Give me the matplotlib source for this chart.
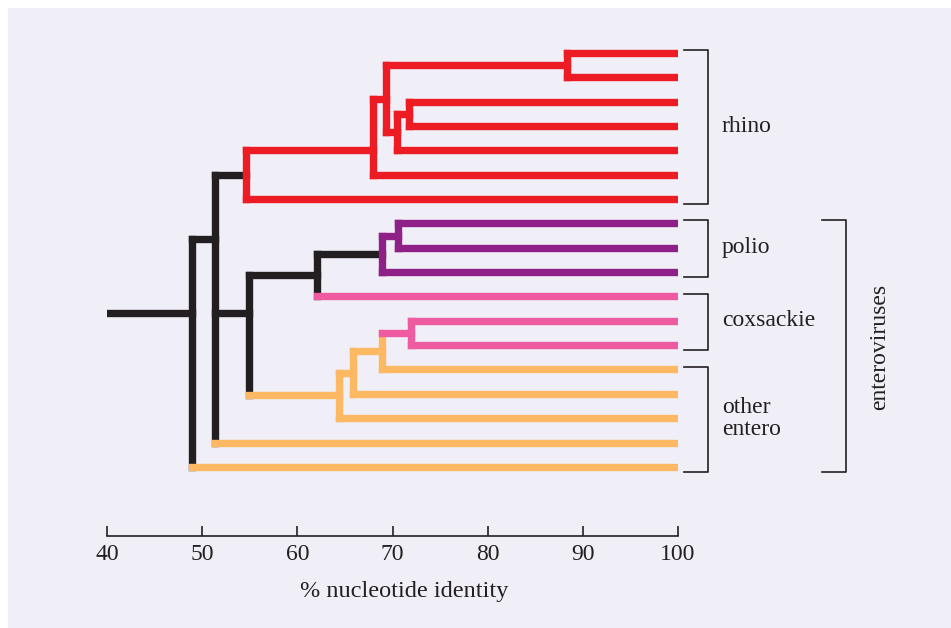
import matplotlib.pyplot as plt
from matplotlib.patches import Rectangle

# leaf groups, top to bottom
groups = ['rhino', 'polio', 'coxsackie', 'other\nentero']
group_sizes = [7, 3, 3, 5]
leaf_colours = ['red'] * 7 + ['purple'] * 3 + ['pink'] * 3 + ['orange'] * 5

# internal nodes: name -> (children, % nucleotide identity)
# ints are leaf rows, strings are other nodes
nodes = {
    'A': ([0, 1], 88.3),
    'B': ([2, 3], 71.7),
    'C': (['B', 4], 70.5),
    'D': (['A', 'C'], 69.3),
    'E': (['D', 5], 67.9),
    'F': (['E', 6], 54.6),
    'G': ([7, 8], 70.6),
    'H': (['G', 9], 68.85),
    'I': (['H', 10], 62.1),
    'J': ([11, 12], 71.95),
    'K': (['J', 13], 68.9),
    'L': (['K', 14], 65.9),
    'M': (['L', 15], 64.4),
    'N': (['I', 'M'], 54.9),
    'O': (['F', 'N', 16], 51.4),
    'P': (['O', 17], 48.9),
}
root = 'P'
root_start = 40

# colour of each node's vertical bar and of the branch leading into it
node_colour = {'A': 'red', 'B': 'red', 'C': 'red', 'D': 'red', 'E': 'red', 'F': 'red',
               'G': 'purple', 'H': 'purple', 'I': 'black',
               'J': 'pink', 'K': 'orange', 'L': 'orange', 'M': 'orange',
               'N': 'black', 'O': 'black', 'P': 'black'}
stem_colour = dict(node_colour, F='black', H='black')

# rows where the drawn branch meets a node, where it is not the midpoint
attach_row = {'E': 4.0, 'N': 10.66, 'O': 7.62, 'P': 10.66}

palette = {'red': '#ED1C24', 'purple': '#8E2088', 'pink': '#EE5BA0',
           'orange': '#FDB863', 'black': '#231F20'}
ink = '#231F20'
serif = ['Liberation Serif', 'DejaVu Serif']

fig = plt.figure(figsize=(9.51, 6.28), dpi=100)
fig.patch.set_facecolor('white')
fig.patches.append(Rectangle((8 / 951, 0), 1, 1 - 8 / 628, transform=fig.transFigure,
                             facecolor='#F0EFF8', edgecolor='none', zorder=-10))
ax = fig.add_axes([107 / 951, 1 - 536 / 628, 571 / 951, 496 / 628])
ax.set_facecolor('none')


def row(c):
    if isinstance(c, int):
        return c
    if c in attach_row:
        return attach_row[c]
    kids = [row(k) for k in nodes[c][0]]
    return (min(kids) + max(kids)) / 2


def height(c):
    return 100 if isinstance(c, int) else nodes[c][1]


def seg(xs, ys, colour):
    ax.plot(xs, ys, color=palette[colour], lw=5.3, solid_capstyle='projecting',
            zorder=2 if colour == 'black' else 3)


for name, (kids, h) in nodes.items():
    rows = [row(k) for k in kids]
    seg([h, h], [min(rows), max(rows)], node_colour[name])
    for k in kids:
        if isinstance(k, int):
            seg([h, 100], [k, k], leaf_colours[k])
        else:
            seg([h, height(k)], [row(k), row(k)], stem_colour[k])
seg([root_start, height(root)], [row(root), row(root)], stem_colour[root])

ax.set_xlim(40, 100)
ax.set_ylim(19.84, -0.534)

# group brackets and labels
first = 0
for label, n in zip(groups, group_sizes):
    last = first + n - 1
    ax.plot([100.6, 103.2, 103.2, 100.6], [first - 0.12, first - 0.12, last + 0.22, last + 0.22],
            color=ink, lw=1.2, clip_on=False)
    ax.text(104.6, (first + last) / 2, label, ha='left', va='center', fontsize=17,
            family=serif, color=ink, linespacing=1.05)
    first = last + 1

ax.plot([115.1, 117.65, 117.65, 115.1], [6.88, 6.88, 17.22, 17.22], color=ink, lw=1.2, clip_on=False)
ax.text(121.2, 12.07, 'enteroviruses', rotation=90, ha='center', va='center', fontsize=17,
        family=serif, color=ink)

for s in ['top', 'left', 'right']:
    ax.spines[s].set_visible(False)
ax.spines['bottom'].set_color(ink)
ax.spines['bottom'].set_linewidth(1.2)
ax.set_yticks([])
ax.set_xticks(range(40, 101, 10))
ax.tick_params(axis='x', direction='in', length=7, width=1.2, color=ink, pad=6,
               labelsize=17, labelcolor=ink)
for t in ax.get_xticklabels():
    t.set_family(serif)
ax.set_xlabel('% nucleotide identity', fontsize=17.5, family=serif, color=ink, labelpad=13)
ax.xaxis.set_label_coords(0.52, -0.09)

fig.savefig('out.png', dpi=100)
